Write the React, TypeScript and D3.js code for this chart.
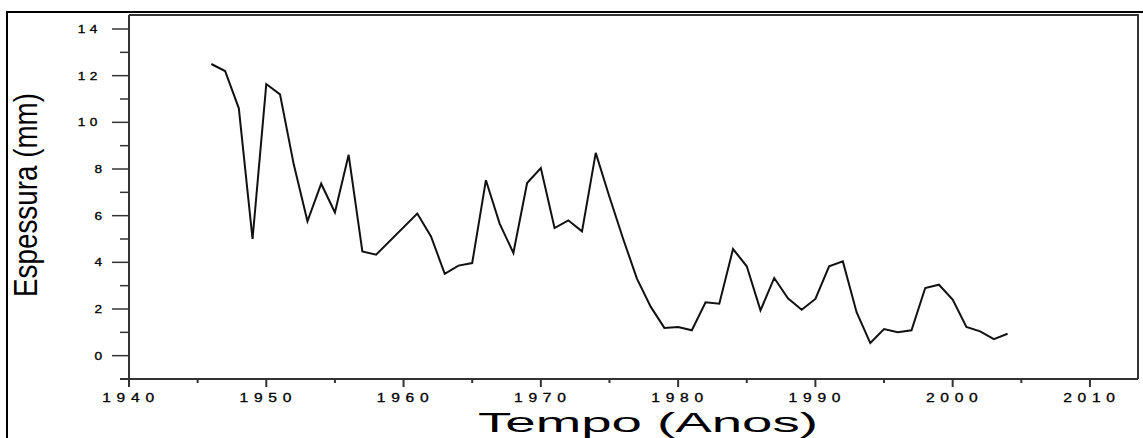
import React from "react";
import * as d3 from "d3";

const years = [1946, 1947, 1948, 1949, 1950, 1951, 1952, 1953, 1954, 1955, 1956, 1957, 1958, 1961, 1962, 1963, 1964, 1965, 1966, 1967, 1968, 1969, 1970, 1971, 1972, 1973, 1974, 1975, 1976, 1977, 1978, 1979, 1980, 1981, 1982, 1983, 1984, 1985, 1986, 1987, 1988, 1989, 1990, 1991, 1992, 1993, 1994, 1995, 1996, 1997, 1998, 1999, 2000, 2001, 2002, 2003, 2004];
const espessura = [12.5, 12.2, 10.6, 5.0, 11.64, 11.2, 8.2, 5.76, 7.37, 6.14, 8.61, 4.47, 4.33, 6.09, 5.11, 3.51, 3.86, 3.97, 7.52, 5.66, 4.4, 7.4, 8.04, 5.47, 5.8, 5.33, 8.69, 6.8, 5.0, 3.3, 2.1, 1.19, 1.23, 1.09, 2.29, 2.23, 4.57, 3.83, 1.94, 3.33, 2.46, 1.97, 2.43, 3.83, 4.04, 1.86, 0.54, 1.14, 1.0, 1.09, 2.9, 3.04, 2.4, 1.23, 1.04, 0.71, 0.94];
const xMajorTicks = [1940, 1950, 1960, 1970, 1980, 1990, 2000, 2010];
const xMinorTicks = [1945, 1955, 1965, 1975, 1985, 1995, 2005];
const yMajorTicks = [0, 2, 4, 6, 8, 10, 12, 14];
const yMinorTicks = [1, 3, 5, 7, 9, 11, 13];

export default function App() {
  const W = 1143, H = 438;
  const x = d3.scaleLinear().domain([1940, 2013.5]).range([129, 1138]);
  const y = d3.scaleLinear().domain([-1, 14.6]).range([379, 15]);
  const line = d3.line<number>().x((_, i) => x(years[i])).y((d) => y(d));
  const font = "Liberation Sans, Arial, sans-serif";
  return (
    <svg width={W} height={H} style={{ position: "absolute", left: 0, top: 0 }}>
      <rect x={0} y={0} width={W} height={H} fill="#fff" />
      <path d={`M7,${H + 5} L7,12 L${W + 5},12`} fill="none" stroke="#000" strokeWidth={2} />
      <path d={`M${x(1940)},15 L1138,15 L1138,379`} fill="none" stroke="#333" strokeWidth={2} />
      <line x1={120} x2={1138} y1={379} y2={379} stroke="#333" strokeWidth={2} />
      <line x1={129} x2={129} y1={15} y2={387} stroke="#333" strokeWidth={2} />
      {xMajorTicks.map((t) => (
        <g key={"xm" + t}>
          <line x1={x(t)} x2={x(t)} y1={379} y2={387} stroke="#333" strokeWidth={2} />
          <text transform={`translate(${x(t) + 2},402) scale(1.3,1)`} textAnchor="middle" fontFamily={font} fontSize={12} letterSpacing={4.4} fill="#000" stroke="#000" strokeWidth={0.3}>{t}</text>
        </g>
      ))}
      {xMinorTicks.map((t) => (
        <line key={"xn" + t} x1={x(t)} x2={x(t)} y1={379} y2={383} stroke="#333" strokeWidth={2} />
      ))}
      {yMajorTicks.map((t) => (
        <g key={"ym" + t}>
          <line x1={112} x2={129} y1={y(t)} y2={y(t)} stroke="#333" strokeWidth={1.5} />
          <text transform={`translate(102,${y(t) + 4}) scale(1.3,1)`} textAnchor="end" fontFamily={font} fontSize={10.5} letterSpacing={t >= 10 ? 3.5 : 0} fill="#000" stroke="#000" strokeWidth={0.3}>{t}</text>
        </g>
      ))}
      {yMinorTicks.map((t) => (
        <line key={"yn" + t} x1={120} x2={129} y1={y(t)} y2={y(t)} stroke="#333" strokeWidth={1.5} />
      ))}
      <path d={line(espessura) || ""} fill="none" stroke="#111" strokeWidth={2} strokeLinejoin="miter" />
      <text x={648} y={432} textAnchor="middle" fontFamily={font} fontSize={28} textLength={340} lengthAdjust="spacingAndGlyphs" fill="#000">Tempo (Anos)</text>
      <text transform={`translate(37,195) rotate(-90)`} textAnchor="middle" fontFamily={font} fontSize={33} textLength={204} lengthAdjust="spacingAndGlyphs" fill="#000">Espessura (mm)</text>
    </svg>
  );
}
